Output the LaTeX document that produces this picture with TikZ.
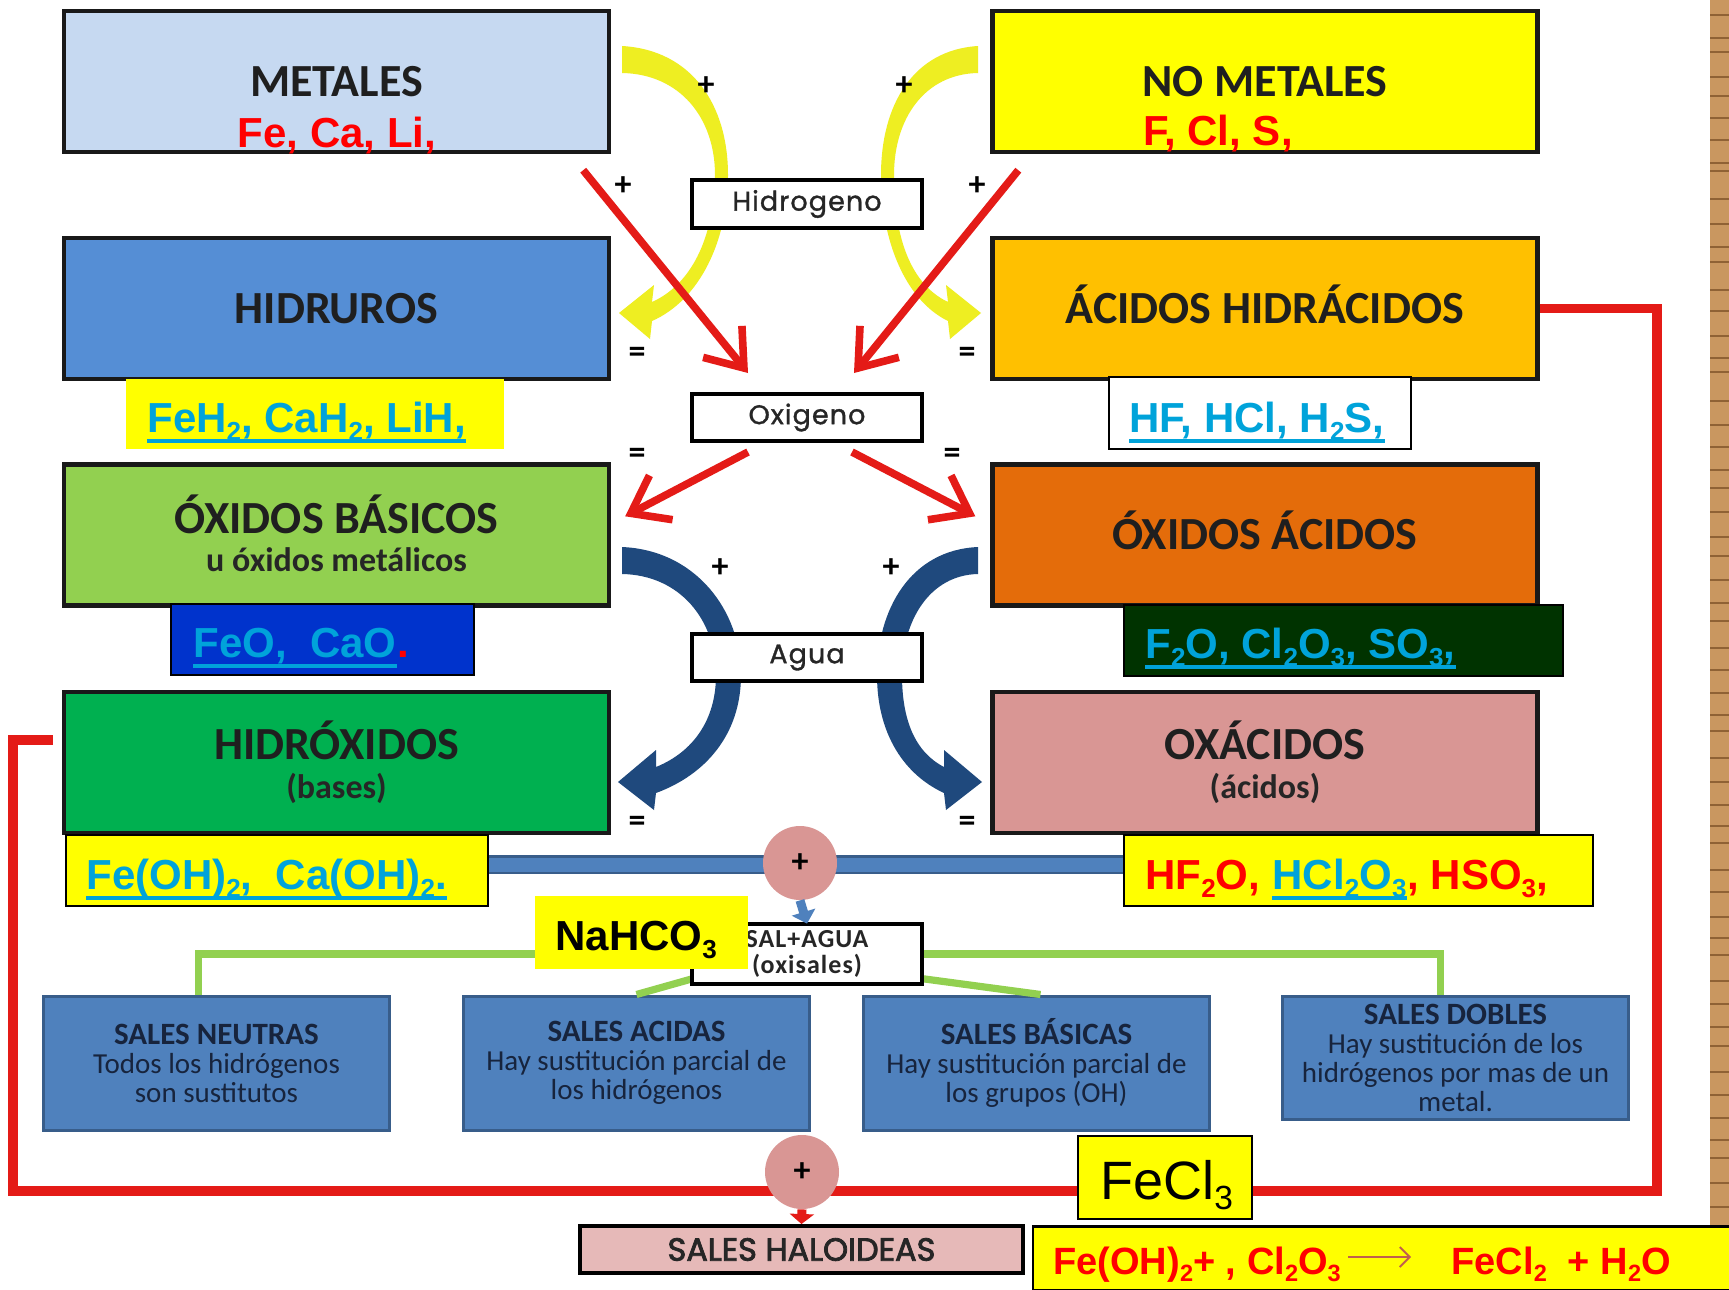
\documentclass[tikz,border=0pt]{standalone}
\usepackage{fontspec}
\usepackage{graphicx}
\setmainfont{Carlito}
\newfontfamily\arialf{Liberation Sans}
\newfontfamily\geof[LetterSpace=4,FakeBold=1.2]{Poppins}
\newfontfamily\geoh[FakeBold=2.5]{Poppins}
\newfontfamily\carlsp[LetterSpace=4]{Carlito}
\usetikzlibrary{arrows.meta,calc}
\newcommand\dn[1]{\raisebox{-0.2em}{\scalebox{0.62}{#1}}}
\newcommand\saltitlefont{\fontsize{15.5}{14.5}\selectfont\bfseries}
\definecolor{cmetal}{HTML}{C6D9F1}
\definecolor{cnometal}{HTML}{FFFF00}
\definecolor{chidruro}{HTML}{558ED5}
\definecolor{chidracido}{HTML}{FFC000}
\definecolor{coxbas}{HTML}{92D050}
\definecolor{coxac}{HTML}{E46C0A}
\definecolor{chidrox}{HTML}{00B050}
\definecolor{coxacido}{HTML}{D99694}
\definecolor{csal}{HTML}{4F81BD}
\definecolor{csalborder}{HTML}{385D8A}
\definecolor{chaloid}{HTML}{E6B9B8}
\definecolor{cpink}{HTML}{D99694}
\definecolor{credl}{HTML}{E41B17}
\definecolor{cred}{HTML}{FF0000}
\definecolor{ccyan}{HTML}{00A3DA}
\definecolor{cnavy}{HTML}{1F497D}
\definecolor{cyel}{HTML}{EEEE22}
\definecolor{cylw}{HTML}{FFFF00}
\definecolor{ctextnavy}{HTML}{17243D}
\definecolor{cfeo}{HTML}{0033CC}
\definecolor{cf2o}{HTML}{003300}
\definecolor{cgreen}{HTML}{92D050}
\definecolor{csalmon}{HTML}{C0604D}
\definecolor{cwood}{HTML}{C99760}
\definecolor{cwooddark}{HTML}{8F6235}
\begin{document}
\begin{tikzpicture}[x=0.5pt,y=-0.5pt,
  bigbox/.style={draw=black!90, line width=2.2pt, minimum width=272.5pt, minimum height=70.5pt, inner sep=0pt},
  title/.style={font=\fontsize{23}{27}\selectfont\bfseries, text=black!88, anchor=base, inner sep=0pt},
  subt/.style={font=\fontsize{17}{20}\selectfont\bfseries, text=black!85, anchor=base, inner sep=0pt},
  midbox/.style={draw=black, line width=2pt, fill=white, minimum width=115pt, inner sep=0pt, font=\geof\fontsize{13.5}{15}\selectfont, text=black!85},
  chem/.style={font=\arialf\bfseries\fontsize{21}{25}\selectfont, inner sep=0pt, anchor=base west},
  ul/.style={draw=ccyan, line width=1.6pt},
  redarrow/.style={draw=credl, line width=3.8pt, -{Straight Barb[length=17pt,width=25pt]}},
  sign/.style={font=\fontsize{17}{17}\selectfont\bfseries, inner sep=0pt, text=black},
  salesbox/.style={draw=csalborder, line width=1.5pt, fill=csal, minimum width=173pt, inner sep=0pt},
  saltext/.style={align=center, font=\fontsize{14.5}{14.5}\selectfont, text=ctextnavy, inner sep=0pt},
  pluscirc/.style={circle, fill=cpink, minimum size=37pt, inner sep=0pt, font=\fontsize{17}{17}\selectfont\bfseries},
  greenline/.style={draw=cgreen, line width=3.6pt},
  redframe/.style={draw=credl, line width=4.6pt},
  lblbox/.style={inner sep=0pt}
]
\useasboundingbox (0,0) rectangle (1729,1290);
\fill[white] (0,0) rectangle (1729,1290);
% wood strip
\fill[cwood] (1710,0) rectangle (1729,1227);
\foreach \yy in {15,38,52,77,96,118,140,163,171,199,224,247,262,290,311,336,358,372,401,425,447,470,488,512,537,556,580,603,621,648,670,693,715,731,758,782,805,826,843,870,892,917,938,955,981,1004,1027,1046,1072,1095,1118,1140,1158,1183,1207}
  \draw[cwooddark, line width=0.9pt] (1710,\yy) -- (1729,\yy);

% yellow curved arrows
\fill[cyel] (622,46) .. controls (692,50) and (728,105) .. (728,175)
  .. controls (728,240) and (700,300) .. (652,321) -- (650,339) -- (619,313) -- (654,285) -- (652,302)
  .. controls (690,285) and (714,240) .. (715,175)
  .. controls (715,118) and (680,74) .. (622,73) -- cycle;
\fill[cyel] (978,46) .. controls (913,50) and (881,105) .. (881,175)
  .. controls (881,240) and (905,300) .. (948,321) -- (950,339) -- (981,313) -- (946,285) -- (948,302)
  .. controls (912,285) and (894,240) .. (894,175)
  .. controls (894,118) and (925,74) .. (978,73) -- cycle;
% blue curved arrows
\fill[cnavy] (622,547) .. controls (695,550) and (741,610) .. (741,675)
  .. controls (741,735) and (705,775) .. (656,793) -- (654,810) -- (618,782) -- (656,750) -- (656,767)
  .. controls (693,752) and (716,720) .. (716,675)
  .. controls (716,620) and (680,575) .. (622,574) -- cycle;
\fill[cnavy] (978,547) .. controls (910,550) and (877,610) .. (877,675)
  .. controls (877,735) and (905,775) .. (944,793) -- (946,810) -- (982,782) -- (944,750) -- (944,767)
  .. controls (915,752) and (902,720) .. (902,675)
  .. controls (902,620) and (930,575) .. (978,574) -- cycle;

% main boxes
\node[bigbox, fill=cmetal] (metales) at (336.5,81.5) {};
\node[bigbox, fill=cnometal] (nometales) at (1265,81.5) {};
\node[bigbox, fill=chidruro] (hidruros) at (336.5,308.5) {};
\node[bigbox, fill=chidracido] (hidracidos) at (1265,308.5) {};
\node[bigbox, fill=coxbas] (oxbas) at (336.5,535) {};
\node[bigbox, fill=coxac] (oxac) at (1265,535) {};
\node[bigbox, fill=chidrox] (hidrox) at (336.5,762.5) {};
\node[bigbox, fill=coxacido] (oxacidos) at (1265,762.5) {};

% red frame
\coordinate (rcorner) at (1657,1191);
\coordinate (lcorner) at (13,740);
\coordinate (hidroxstub) at (53,740);
\draw[redframe] (hidracidos.east) -| (rcorner) -| (lcorner) -- (hidroxstub);

% titles
\node[title] (tmetales) at (336.5,96) {METALES};
\node[title] (tnometales) at (1265,96) {NO METALES};
\node[title] (thidruros) at (336.5,323) {HIDRUROS};
\node[title] (thidracidos) at (1265,323) {ÁCIDOS HIDRÁCIDOS};
\node[title] (toxbas) at (336.5,533) {ÓXIDOS BÁSICOS};
\node[subt] (soxbas) at (336.5,571) {u óxidos metálicos};
\node[title] (toxac) at (1265,549) {ÓXIDOS ÁCIDOS};
\node[title] (thidrox) at (336.5,759) {HIDRÓXIDOS};
\node[subt] (shidrox) at (336.5,798) {(bases)};
\node[title] (toxacidos) at (1265,759) {OXÁCIDOS};
\node[subt] (soxacidos) at (1265,798) {(ácidos)};
\node[chem, anchor=base, text=cred] (fecali) at (337,147) {Fe, Ca, Li,};
\node[chem, anchor=base, text=cred] (fcls) at (1218,145) {F, Cl, S,};

% middle boxes
\node[midbox, minimum height=24pt] (hidrogeno) at (807,204) {Hidrogeno};
\node[midbox, minimum height=23.5pt] (oxigeno) at (807,417.5) {Oxigeno};
\node[midbox, minimum height=23.5pt] (agua) at (807,657.5) {Agua};

% red straight arrows
\draw[redarrow] ($(metales.south east)+(-28,16)$) -- ($(oxigeno.north west)+(58,-19)$);
\draw[redarrow] ($(nometales.south west)+(28,16)$) -- ($(oxigeno.north east)+(-70,-19)$);
\draw[redarrow] ($(oxigeno.south west)+(58,9)$) -- ($(oxbas.north east)+(14,54)$);
\draw[redarrow] ($(oxigeno.south east)+(-72,9)$) -- ($(oxac.north west)+(-15,54)$);

% signs
\node[sign] (s1) at (706,86) {+};
\node[sign] (s2) at (904,86) {+};
\node[sign] (s3) at (623,186) {+};
\node[sign] (s4) at (977,186) {+};
\node[sign] (s5) at (637,355) {=};
\node[sign] (s6) at (967,355) {=};
\node[sign] (s7) at (637,456) {=};
\node[sign] (s8) at (952,456) {=};
\node[sign] (s9) at (720,568) {+};
\node[sign] (s10) at (891,568) {+};
\node[sign] (s11) at (637,824) {=};
\node[sign] (s12) at (967,824) {=};

% label boxes
\node[lblbox, fill=cylw, minimum width=189pt, minimum height=35pt] (feh2box) at (315,414) {};
\node[lblbox, draw=black, line width=1pt, fill=white, minimum width=151pt, minimum height=36pt] (hfbox) at (1260,413) {};
\node[lblbox, draw=black, line width=1pt, fill=cfeo, minimum width=151.5pt, minimum height=35.5pt] (feobox) at (322.5,639.5) {};
\node[lblbox, draw=black, line width=1pt, fill=cf2o, minimum width=219.5pt, minimum height=35.5pt] (f2obox) at (1343.5,640.5) {};

% band
\node[lblbox, minimum width=211pt, minimum height=35.5pt] (feohbox) at (277,870.5) {};
\node[lblbox, minimum width=234.5pt, minimum height=35.5pt] (hf2obox) at (1358.5,870.5) {};
\draw[csalborder, line width=9.5pt] ($(feohbox.east)+(0,-6)$) -- ($(hf2obox.west)+(0,-6)$);
\draw[csal, line width=7pt] ($(feohbox.east)+(0,-6)$) -- ($(hf2obox.west)+(0,-6)$);
\node[lblbox, draw=black, line width=1pt, fill=cylw, minimum width=211pt, minimum height=35.5pt] (feohfill) at (feohbox) {};
\node[lblbox, draw=black, line width=1pt, fill=cylw, minimum width=234.5pt, minimum height=35.5pt] (hf2ofill) at (hf2obox) {};

% sales boxes and green lines
\coordinate (salaguapos) at (807,954);
\node[salesbox, minimum height=67pt] (neutras) at (216.5,1063) {};
\node[salesbox, minimum height=67pt] (acidas) at (636.5,1063) {};
\node[salesbox, minimum height=67pt] (basicas) at (1036.5,1063) {};
\node[salesbox, minimum height=61.5pt] (dobles) at (1455.5,1057.5) {};
\node[inner sep=0pt, minimum width=115pt, minimum height=30pt] (salagua) at (salaguapos) {};
\draw[greenline] (salagua.west) -| ($(neutras.north)+(-18,0)$);
\draw[greenline] (salagua.east) -| ($(dobles.north)+(-15,0)$);
\draw[greenline] ($(salagua.south west)+(2,-6)$) -- (acidas.north);
\draw[greenline] ($(salagua.south east)+(-2,-6)$) -- ($(basicas.north)+(4,0)$);
\node[midbox, minimum height=30pt, align=center, font=\carlsp\bfseries\fontsize{13}{13}\selectfont] (salaguat) at (salagua) {SAL+AGUA\\(oxisales)};

\node[saltext] (tneutras) at (neutras) {{\saltitlefont SALES NEUTRAS}\\Todos los hidrógenos\\son sustitutos};
\node[saltext] (tacidas) at (acidas) {{\saltitlefont SALES ACIDAS}\\Hay sustitución parcial de\\los hidrógenos};
\node[saltext] (tbasicas) at (basicas) {{\saltitlefont SALES BÁSICAS}\\Hay sustitución parcial de\\los grupos (OH)};
\node[saltext] (tdobles) at (dobles) {{\saltitlefont SALES DOBLES}\\Hay sustitución de los\\hidrógenos por mas de un\\metal.};

% plus circles and arrows
\node[pluscirc] (plus1) at (800,863) {+};
\node[draw=black, line width=2pt, fill=chaloid, minimum width=221.5pt, minimum height=23.5pt, inner sep=0pt, font=\geoh\fontsize{16}{18}\selectfont, text=black!85] (haloid) at (801.5,1249.5) {SALES HALOIDEAS};
\node[pluscirc] (plus2) at (802,1172) {+};
\draw[csal, line width=4.5pt, -{Triangle[length=6pt,width=12pt]}] (plus1.south) -- (salagua.north);
\draw[credl, line width=4.5pt, -{Triangle[length=5pt,width=12pt]}] (plus2.south) -- (haloid.north);

% chemical formulas
\node[chem, text=ccyan] (feh2) at (147,432) {FeH\dn{2}, CaH\dn{2}, LiH,};
\draw[ul] ([yshift=-4.5pt]feh2.base west) -- ([yshift=-4.5pt]feh2.base east);
\node[chem, text=ccyan] (hf) at (1129,432) {HF, HCl, H\dn{2}S,};
\draw[ul] ([yshift=-4.5pt]hf.base west) -- ([yshift=-4.5pt]hf.base east);
\node[chem, text=ccyan] (feo) at (193,657) {FeO,\ \ CaO};
\node[chem, text=cred] (feodot) at (feo.base east) {.};
\draw[ul] ([yshift=-4.5pt]feo.base west) -- ([yshift=-4.5pt]feo.base east);
\node[chem, text=ccyan] (f2o) at (1145,658) {F\dn{2}O, Cl\dn{2}O\dn{3}, SO\dn{3},};
\draw[ul] ([yshift=-4.5pt]f2o.base west) -- ([yshift=-4.5pt]f2o.base east);
\node[chem, text=ccyan] (feoh) at (86,889) {Fe(OH)\dn{2},\ \ Ca(OH)\dn{2}.};
\draw[ul] ([yshift=-4.5pt]feoh.base west) -- ([yshift=-4.5pt]feoh.base east);
\node[chem, text=cred] (hf2oa) at (1145,889) {HF\dn{2}O,};
\node[chem, text=ccyan] (hf2ob) at ([xshift=5.8pt]hf2oa.base east) {HCl\dn{2}O\dn{3}};
\node[chem, text=cred] (hf2oc) at (hf2ob.base east) {, HSO\dn{3},};
\draw[ul] ([yshift=-4.5pt]hf2ob.base west) -- ([yshift=-4.5pt]hf2ob.base east);

\node[lblbox, fill=cylw, minimum width=106.5pt, minimum height=36.5pt] (nahbox) at (641.5,932.5) {};
\node[chem, text=black] (nah) at (555,950) {NaHCO\dn{3}};

\node[lblbox, draw=black, line width=1pt, fill=cylw, minimum width=87pt, minimum height=41.5pt] (fecl3box) at (1165,1177.5) {};
\node[chem, font=\arialf\fontsize{27}{30}\selectfont, text=black] (fecl3) at (1100,1199) {FeCl\dn{3}};

\node[lblbox, draw=black, line width=1.2pt, fill=cylw, minimum width=349pt, minimum height=32pt] (eqbox) at (1382,1258.5) {};
\node[chem, font=\arialf\bfseries\fontsize{19}{22}\selectfont, text=cred] (eq1) at (1053,1274) {Fe(OH)\dn{2}+ , Cl\dn{2}O\dn{3}};
\node[chem, font=\arialf\bfseries\fontsize{19}{22}\selectfont, text=cred] (eq2) at (1451,1274) {FeCl\dn{2}\ \ + H\dn{2}O};
\draw[csalmon, line width=0.9pt, -{Straight Barb[length=5pt,width=10pt]}] ($(eq1.base west)+(295,-17)$) -- ($(eq2.base west)+(-40,-17)$);
\end{tikzpicture}
\end{document}
